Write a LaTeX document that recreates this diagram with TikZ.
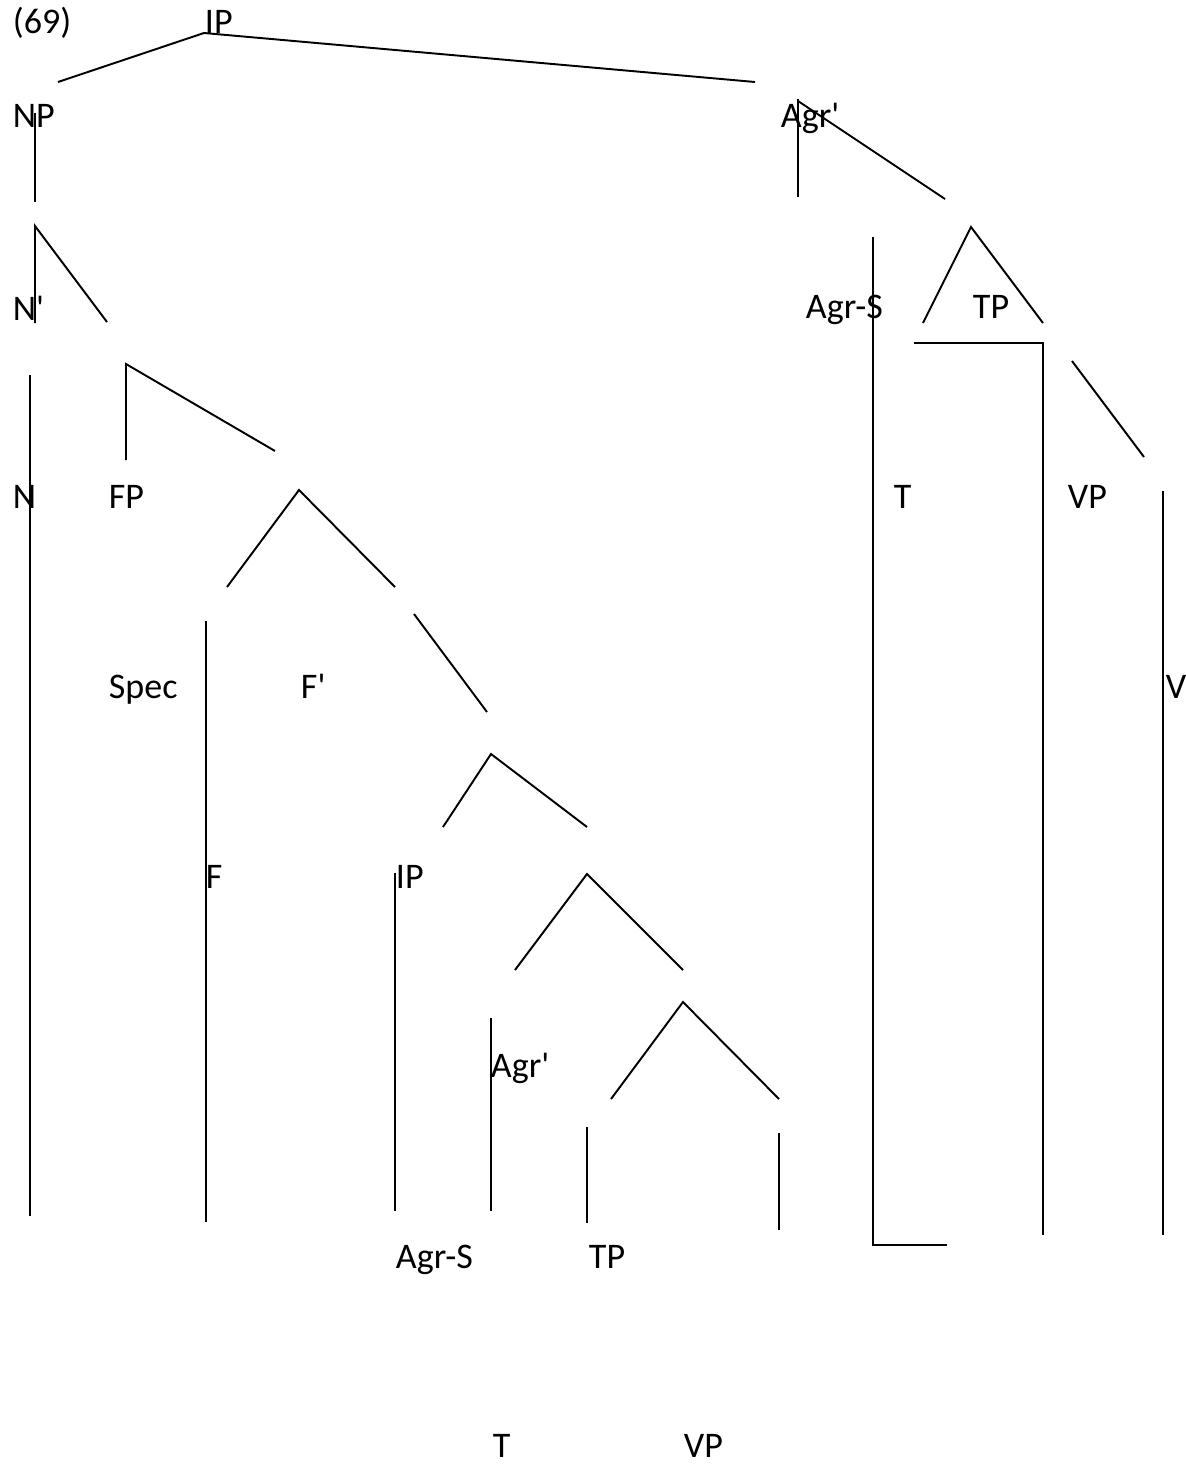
\documentclass[tikz,border=0pt]{standalone}
\usepackage{fontspec}
\setmainfont{Carlito}
\usepackage{tikz}
\usetikzlibrary{positioning}

\tikzset{lab/.style={anchor=base west,inner sep=0pt,font=\fontsize{20.5}{24}\selectfont}}
\newcommand{\pr}{\textquotesingle}

\begin{document}
\begin{tikzpicture}[x=0.02cm,y=-0.02cm,line width=1.1pt,line cap=butt]
  \useasboundingbox (0,0) rectangle (1186,1464);
  % labels
  \node[lab] (num) at (12,33){(69)};
  \node[lab] (ip) at (204,33){IP};
  \node[lab] (np) at (12,127){NP};
  \node[lab] (agrbar) at (780,127){Agr\pr};
  \node[lab] (nbar) at (12,320){N\pr};
  \node[lab] (agrs) at (805,318){Agr-S};
  \node[lab] (tp) at (972,318){TP};
  \node[lab] (n) at (12,508){N};
  \node[lab] (fp) at (108,508){FP};
  \node[lab] (t) at (893,508){T};
  \node[lab] (vp) at (1067,508){VP};
  \node[lab] (spec) at (108,698){Spec};
  \node[lab] (fbar) at (300,698){F\pr};
  \node[lab] (v) at (1165,698){V};
  \node[lab] (f) at (205,888){F};
  \node[lab] (iplow) at (395,888){IP};
  \node[lab] (agrbarlow) at (490,1077){Agr\pr};
  \node[lab] (agrslow) at (395,1268){Agr-S};
  \node[lab] (tplow) at (588,1268){TP};
  \node[lab] (tlow) at (492,1457){T};
  \node[lab] (vplow) at (683,1457){VP};
  % left tree
  \draw (58,82) -- (204,33) -- (755,82);
  \draw (35,113) -- (35,202);
  \draw (35,323) -- (35,226) -- (107,322);
  \draw (30,375) -- (30,1216);
  \draw (126,460) -- (126,364) -- (275,451);
  \draw (227,587) -- (299,490) -- (395,587);
  \draw (206,621) -- (206,1222);
  \draw (414,614) -- (487,712);
  \draw (443,827) -- (491,754) -- (587,827);
  \draw (395,873) -- (395,1211);
  \draw (515,970) -- (587,874) -- (683,970);
  \draw (491,1018) -- (491,1211);
  \draw (611,1099) -- (683,1002) -- (779,1099);
  \draw (587,1127) -- (587,1223);
  \draw (779,1133) -- (779,1230);
  % right tree
  \draw (798,99) -- (798,197);
  \draw (798,101) -- (945,199);
  \draw (923,323) -- (971,227) -- (1043,323);
  \draw (914,343) -- (1043,343) -- (1043,1235);
  \draw (873,237) -- (873,1245) -- (947,1245);
  \draw (1072,361) -- (1144,457);
  \draw (1163,491) -- (1163,1235);
\end{tikzpicture}
\end{document}
